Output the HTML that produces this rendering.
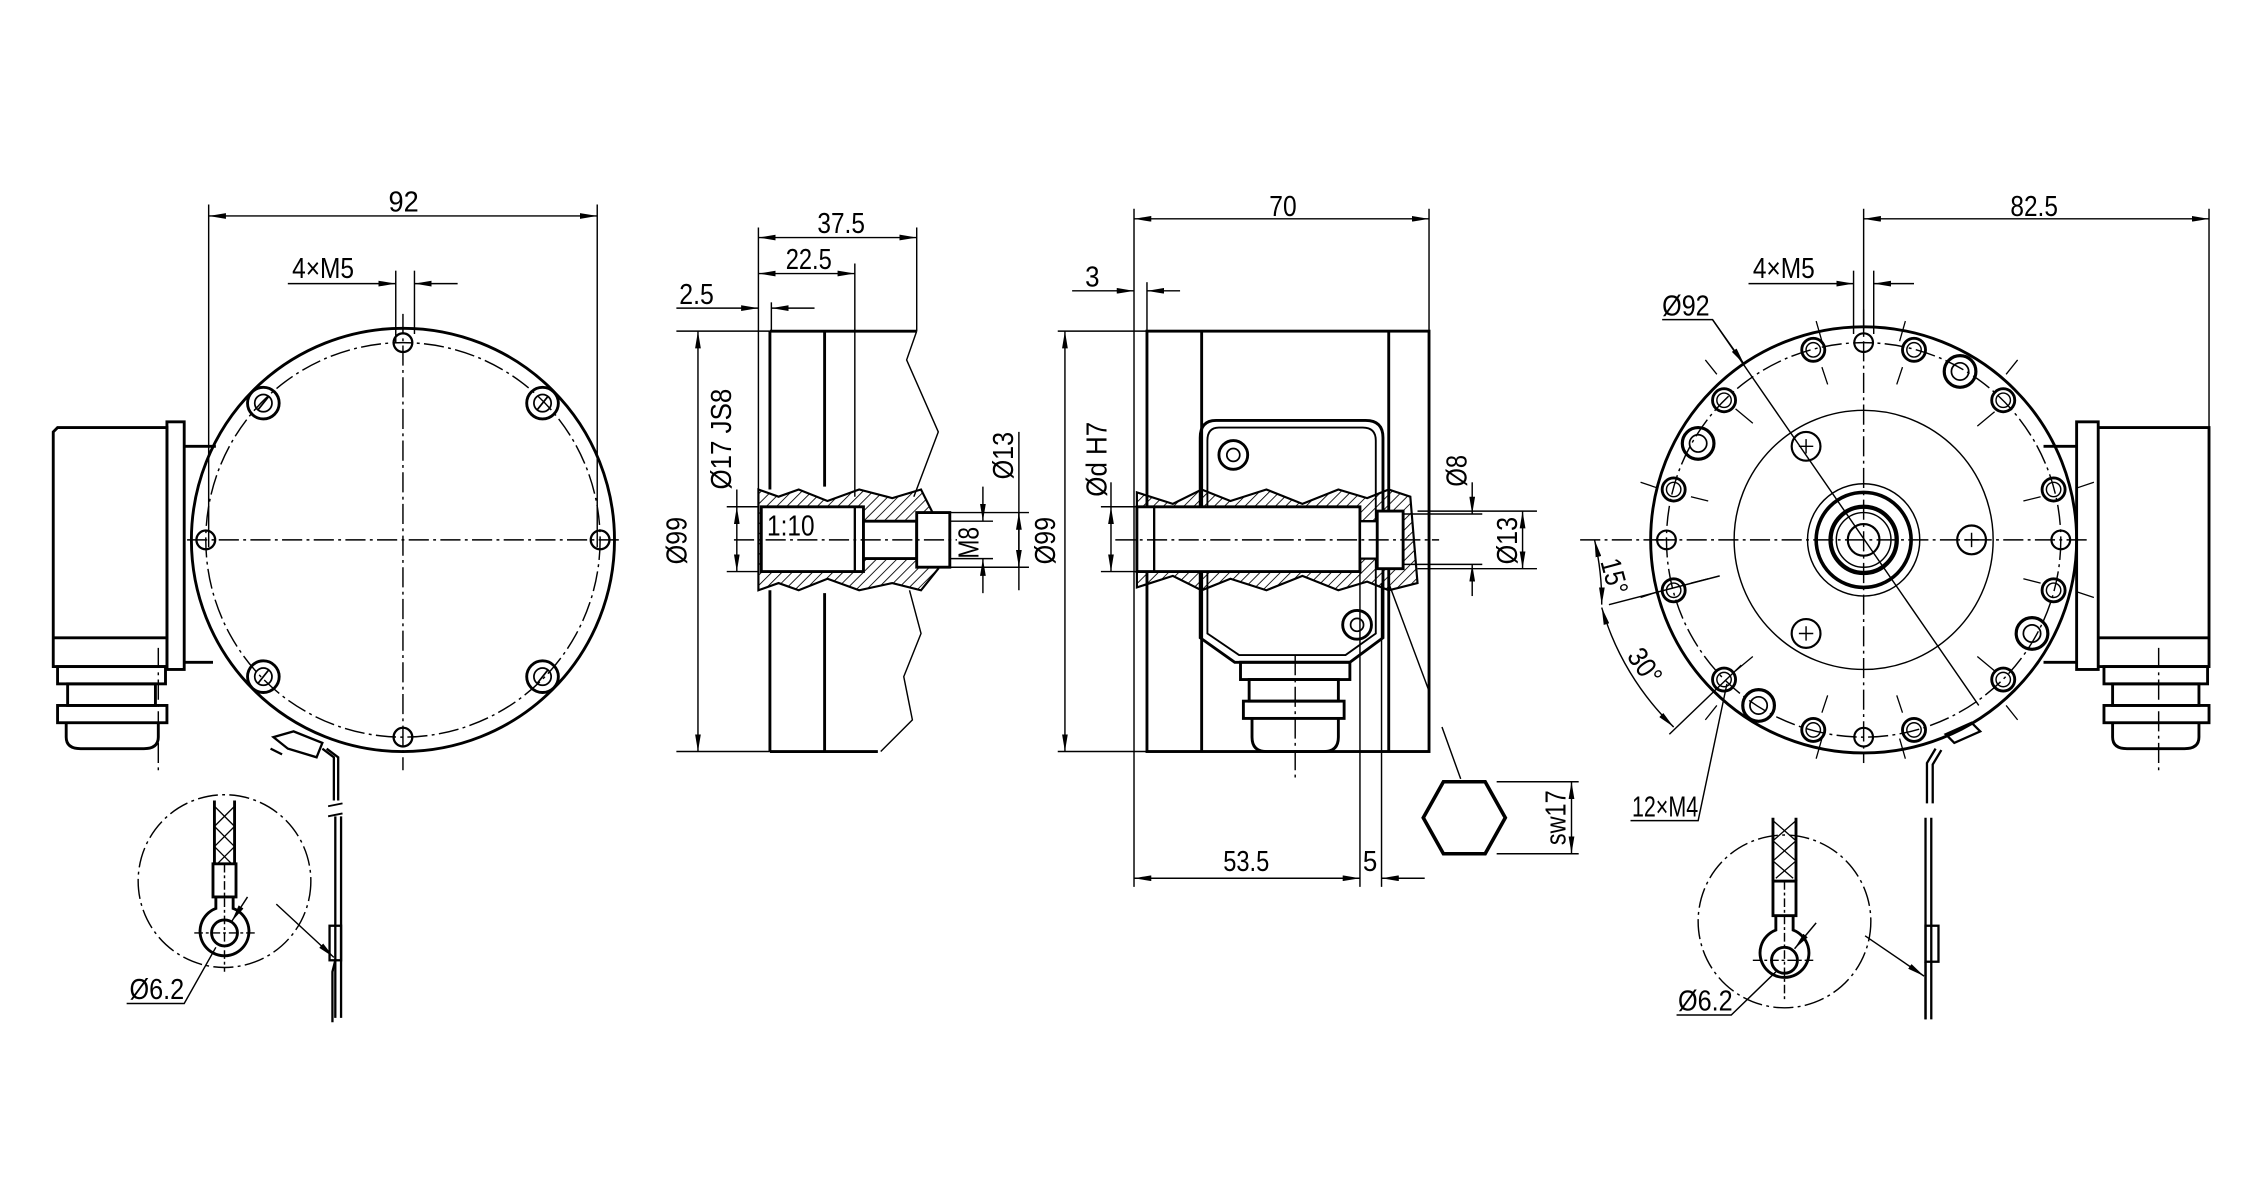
<!DOCTYPE html>
<html><head><meta charset="utf-8"><style>
html,body{margin:0;padding:0;background:#fff}
svg{display:block}
text{font-family:"Liberation Sans",sans-serif;font-size:20px;fill:#000}
</style></head><body>
<svg width="2245" height="1182" viewBox="0 0 1560 821" preserveAspectRatio="none" xmlns="http://www.w3.org/2000/svg">
<defs>
<marker id="a" viewBox="0 0 12 4" refX="12" refY="2" markerWidth="12" markerHeight="4" orient="auto-start-reverse" markerUnits="userSpaceOnUse"><path d="M0,0L12,2L0,4z" fill="#000"/></marker>
<pattern id="h" width="5" height="5" patternUnits="userSpaceOnUse" patternTransform="rotate(45)"><line x1="0" y1="0" x2="0" y2="5" stroke="#000" stroke-width="1.2"/></pattern>
</defs>
<g fill="none" stroke="#000" stroke-width="1">
<!-- ================= VIEW 1 ================= -->
<g stroke-width="1">
<line x1="145" y1="142" x2="145" y2="380"/><line x1="415" y1="142" x2="415" y2="380"/>
<line x1="145" y1="150" x2="415" y2="150" marker-start="url(#a)" marker-end="url(#a)"/>
<line x1="275" y1="188" x2="275" y2="238"/><line x1="288" y1="188" x2="288" y2="232"/>
<line x1="200" y1="197" x2="275" y2="197" marker-end="url(#a)"/><line x1="318" y1="197" x2="288" y2="197" marker-end="url(#a)"/>
</g>
<circle cx="280" cy="375" r="147" stroke-width="2"/>
<circle cx="280" cy="375" r="137" stroke-dasharray="14,3,2,3"/>
<line x1="130" y1="375" x2="432" y2="375" stroke-dasharray="14,3,2,3"/>
<line x1="280" y1="218" x2="280" y2="535" stroke-dasharray="14,3,2,3"/>
<g stroke-width="1.6">
<circle cx="280" cy="238" r="6.5"/><circle cx="280" cy="512" r="6.5"/><circle cx="143" cy="375" r="6.5"/><circle cx="417" cy="375" r="6.5"/>
</g>
<g stroke-width="2">
<circle cx="183" cy="280" r="11"/><circle cx="377" cy="280" r="11"/><circle cx="183" cy="470" r="11"/><circle cx="377" cy="470" r="11"/>
</g>
<g stroke-width="1.2"><circle cx="183" cy="280" r="6"/><circle cx="377" cy="280" r="6"/><circle cx="183" cy="470" r="6"/><circle cx="377" cy="470" r="6"/>
<line x1="179" y1="285" x2="187" y2="275"/><line x1="373" y1="285" x2="381" y2="275"/><line x1="179" y1="475" x2="187" y2="465"/><line x1="373" y1="475" x2="381" y2="465"/></g>
<!-- connector -->
<g stroke-width="2">
<path d="M40,297H116V463H37V300z"/><line x1="37" y1="443" x2="116" y2="443"/>
<rect x="116" y="293" width="12" height="172"/>
<path d="M128,310H150M128,460H148"/>
<rect x="40" y="463" width="75" height="12"/><rect x="47" y="475" width="61" height="15"/>
<rect x="40" y="490" width="76" height="12"/><path d="M46,502V512Q46,520 56,520H100Q110,520 110,512V502"/>
</g>
<line x1="110" y1="450" x2="110" y2="536" stroke-dasharray="14,3,2,3"/>
<!-- clip/lead -->
<g stroke-width="1.6"><path d="M190,512l14,-4l20,8l-4,10l-20,-6z"/><path d="M188,520l8,4M224,520l8,6v30M227,520l8,6v30"/><path d="M233,567v140M237,567v140" /><rect x="229" y="643" width="8" height="24"/><path d="M233,667l-2,8v35"/></g>
<g stroke-width="1.3"><path d="M228,560l10,-2M228,567l10,-2"/></g>
<!-- detail -->
<circle cx="156" cy="612" r="60" stroke-dasharray="14,3,2,3"/>
<g stroke-width="2"><path d="M149,556V600M163,556V600"/><rect x="148" y="600" width="16" height="23"/>
<path d="M150,623v8a17,17 0 1 0 12,0v-8"/><circle cx="156" cy="648" r="9"/></g>
<g stroke-width="0.9"><path d="M149,560l14,14M163,560l-14,14M149,574l14,14M163,574l-14,14M149,588l12,12M163,588l-12,12"/></g>
<path d="M135,648h42M156,600v75" stroke-dasharray="6,2,2,2"/>
<path d="M88,697H128L150,658" /><path d="M172,623L161,640" marker-end="url(#a)"/>
<path d="M192,628L232,665" marker-end="url(#a)"/>
<!-- ================= VIEW 2 ================= -->
<g>
<line x1="527" y1="158" x2="527" y2="345"/><line x1="594" y1="183" x2="594" y2="345"/><line x1="637" y1="158" x2="637" y2="230"/>
<line x1="527" y1="165" x2="637" y2="165" marker-start="url(#a)" marker-end="url(#a)"/>
<line x1="527" y1="190" x2="594" y2="190" marker-start="url(#a)" marker-end="url(#a)"/>
<line x1="470" y1="214" x2="527" y2="214" marker-end="url(#a)"/><line x1="566" y1="214" x2="536" y2="214" marker-end="url(#a)"/><line x1="536" y1="210" x2="536" y2="230"/>
<line x1="470" y1="230" x2="535" y2="230"/><line x1="470" y1="522" x2="535" y2="522"/>
<line x1="485" y1="230" x2="485" y2="522" marker-start="url(#a)" marker-end="url(#a)"/>
<line x1="505" y1="352" x2="527" y2="352"/><line x1="505" y1="397" x2="527" y2="397"/><line x1="512" y1="340" x2="512" y2="352"/>
<line x1="512" y1="352" x2="512" y2="397" marker-start="url(#a)" marker-end="url(#a)"/>
<line x1="660" y1="356" x2="715" y2="356"/><line x1="660" y1="394" x2="715" y2="394"/>
<line x1="708" y1="300" x2="708" y2="410"/><line x1="708" y1="356" x2="708" y2="394" marker-start="url(#a)" marker-end="url(#a)"/>
<line x1="640" y1="362" x2="690" y2="362"/><line x1="640" y1="388" x2="690" y2="388"/>
<line x1="683" y1="338" x2="683" y2="362" marker-end="url(#a)"/><line x1="683" y1="412" x2="683" y2="388" marker-end="url(#a)"/>
</g>
<g stroke-width="2">
<path d="M535,230H637M535,522H610M535,230V340M535,410V522"/><path d="M573,230V338M573,412V522"/>
</g>
<path d="M637,230L630,250L652,300L635,345M632,410L640,440L628,470L634,500L612,522"/>
<path d="M527,340L541,345L555,340L575,348L597,340L620,346L640,340L650,360L652,395L640,410L620,405L597,410L575,402L555,410L541,405L527,410z" fill="url(#h)" stroke="#000" stroke-width="1.5"/>
<path d="M529,352H600V397H529z" fill="#fff" stroke="#000" stroke-width="2"/>
<path d="M600,362H637V388H600z" fill="#fff" stroke="#000" stroke-width="2"/>
<path d="M637,356H660V394H637z" fill="#fff" stroke="#000" stroke-width="2"/>
<line x1="594" y1="352" x2="594" y2="397" stroke-width="1.6"/>
<line x1="510" y1="375" x2="665" y2="375" stroke-dasharray="14,3,2,3"/>
<!-- ================= VIEW 3 ================= -->
<g>
<line x1="788" y1="145" x2="788" y2="616"/><line x1="993" y1="145" x2="993" y2="230"/>
<line x1="788" y1="152" x2="993" y2="152" marker-start="url(#a)" marker-end="url(#a)"/>
<line x1="797" y1="196" x2="797" y2="230"/>
<line x1="745" y1="202" x2="788" y2="202" marker-end="url(#a)"/><line x1="820" y1="202" x2="797" y2="202" marker-end="url(#a)"/>
<line x1="735" y1="230" x2="797" y2="230"/><line x1="735" y1="522" x2="797" y2="522"/>
<line x1="740" y1="230" x2="740" y2="522" marker-start="url(#a)" marker-end="url(#a)"/>
<line x1="765" y1="352" x2="790" y2="352"/><line x1="765" y1="397" x2="790" y2="397"/><line x1="772" y1="335" x2="772" y2="352"/>
<line x1="772" y1="352" x2="772" y2="397" marker-start="url(#a)" marker-end="url(#a)"/>
<line x1="975" y1="357" x2="1030" y2="357"/><line x1="975" y1="392" x2="1030" y2="392"/>
<line x1="1023" y1="335" x2="1023" y2="357" marker-end="url(#a)"/><line x1="1023" y1="414" x2="1023" y2="392" marker-end="url(#a)"/>
<line x1="985" y1="355" x2="1068" y2="355"/><line x1="985" y1="395" x2="1068" y2="395"/>
<line x1="1058" y1="355" x2="1058" y2="395" marker-start="url(#a)" marker-end="url(#a)"/>
<line x1="945" y1="395" x2="945" y2="616"/><line x1="960" y1="405" x2="960" y2="616"/>
<line x1="788" y1="610" x2="945" y2="610" marker-start="url(#a)" marker-end="url(#a)"/>
<line x1="990" y1="610" x2="960" y2="610" marker-end="url(#a)"/>
<line x1="965" y1="405" x2="993" y2="480"/><line x1="1002" y1="505" x2="1015" y2="541"/>
<line x1="1040" y1="543" x2="1097" y2="543"/><line x1="1040" y1="593" x2="1097" y2="593"/>
<line x1="1092" y1="543" x2="1092" y2="593" marker-start="url(#a)" marker-end="url(#a)"/>
</g>
<path d="M1003,543H1032L1046,568L1032,593H1003L989,568z" stroke-width="2.5"/>
<g stroke-width="2">
<rect x="797" y="230" width="196" height="292"/><path d="M835,230V522M965,230V522"/>
<path d="M845,292H949Q961,292 961,304V443L938,460H858L834,443V304Q834,292 845,292z"/>
<path d="M847,297H947Q956,297 956,306V440L935,455H861L839,440V306Q839,297 847,297z" stroke-width="1.3"/>
<circle cx="857" cy="316" r="10"/><circle cx="943" cy="434" r="10"/>
<rect x="862" y="460" width="76" height="12"/><rect x="868" y="472" width="62" height="15"/>
<rect x="864" y="487" width="70" height="12"/><path d="M870,499V512Q870,522 880,522H920Q930,522 930,512V499"/>
</g>
<circle cx="857" cy="316" r="4.5" stroke-width="1.2"/><circle cx="943" cy="434" r="4.5" stroke-width="1.2"/>
<line x1="900" y1="455" x2="900" y2="540" stroke-dasharray="14,3,2,3"/>
<path d="M790,342L815,350L835,340L855,348L880,340L905,350L930,340L950,346L965,340L980,345L985,405L965,410L950,404L930,410L905,400L880,410L855,402L835,410L815,400L790,408z" fill="url(#h)" stroke="#000" stroke-width="1.5"/>
<path d="M790,352H945V397H790z" fill="#fff" stroke="#000" stroke-width="2"/>
<line x1="802" y1="352" x2="802" y2="397" stroke-width="1.6"/>
<path d="M945,362H957V388H945z" fill="#fff" stroke="#000" stroke-width="1.6"/>
<path d="M957,355H975V395H957z" fill="#fff" stroke="#000" stroke-width="2"/>
<line x1="775" y1="375" x2="1000" y2="375" stroke-dasharray="14,3,2,3"/>
<!-- ================= VIEW 4 ================= -->
<g>
<line x1="1295" y1="145" x2="1295" y2="232"/><line x1="1535" y1="145" x2="1535" y2="297"/>
<line x1="1295" y1="152" x2="1535" y2="152" marker-start="url(#a)" marker-end="url(#a)"/>
<line x1="1288" y1="188" x2="1288" y2="232"/><line x1="1302" y1="188" x2="1302" y2="232"/>
<line x1="1215" y1="197" x2="1288" y2="197" marker-end="url(#a)"/><line x1="1330" y1="197" x2="1302" y2="197" marker-end="url(#a)"/>
<path d="M1155,222H1190L1375,490"/><line x1="1190" y1="222" x2="1212" y2="253" marker-end="url(#a)"/>
<path d="M1133,570H1180L1200,475"/>
<line x1="1098" y1="375" x2="1160" y2="375" stroke-dasharray="14,3,2,3"/>
<line x1="1118" y1="420" x2="1195" y2="400"/><line x1="1160" y1="510" x2="1210" y2="462"/>
<path d="M1108,375A188,188 0 0 1 1113,420" marker-start="url(#a)" marker-end="url(#a)"/>
<path d="M1113,422A188,188 0 0 0 1163,505" marker-start="url(#a)" marker-end="url(#a)"/>
</g>
<circle cx="1295" cy="375" r="148" stroke-width="2"/>
<circle cx="1295" cy="375" r="137" stroke-dasharray="14,3,2,3"/>
<circle cx="1295" cy="375" r="90"/>
<circle cx="1295" cy="375" r="39"/><circle cx="1295" cy="375" r="33" stroke-width="2.5"/>
<circle cx="1295" cy="375" r="23" stroke-width="3"/><circle cx="1295" cy="375" r="19"/><circle cx="1295" cy="375" r="11" stroke-width="1.5"/>
<line x1="1150" y1="375" x2="1450" y2="375" stroke-dasharray="14,3,2,3"/>
<line x1="1295" y1="215" x2="1295" y2="530" stroke-dasharray="14,3,2,3"/>
<g stroke-width="2">
<circle cx="1427" cy="340" r="8"/><circle cx="1392" cy="278" r="8"/><circle cx="1330" cy="243" r="8"/><circle cx="1260" cy="243" r="8"/>
<circle cx="1198" cy="278" r="8"/><circle cx="1163" cy="340" r="8"/><circle cx="1163" cy="410" r="8"/><circle cx="1198" cy="472" r="8"/>
<circle cx="1260" cy="507" r="8"/><circle cx="1330" cy="507" r="8"/><circle cx="1392" cy="472" r="8"/><circle cx="1427" cy="410" r="8"/>
</g>
<g stroke-width="1">
<circle cx="1427" cy="340" r="5"/><circle cx="1392" cy="278" r="5"/><circle cx="1330" cy="243" r="5"/><circle cx="1260" cy="243" r="5"/>
<circle cx="1198" cy="278" r="5"/><circle cx="1163" cy="340" r="5"/><circle cx="1163" cy="410" r="5"/><circle cx="1198" cy="472" r="5"/>
<circle cx="1260" cy="507" r="5"/><circle cx="1330" cy="507" r="5"/><circle cx="1392" cy="472" r="5"/><circle cx="1427" cy="410" r="5"/>
</g>
<g stroke-width="1.5"><circle cx="1295" cy="238" r="6.5"/><circle cx="1295" cy="512" r="6.5"/><circle cx="1158" cy="375" r="6.5"/><circle cx="1432" cy="375" r="6.5"/></g>
<g stroke-width="2.2"><circle cx="1362" cy="258" r="11"/><circle cx="1180" cy="308" r="11"/><circle cx="1412" cy="440" r="11"/><circle cx="1222" cy="490" r="11"/></g>
<g stroke-width="1.2"><circle cx="1362" cy="258" r="6"/><circle cx="1180" cy="308" r="6"/><circle cx="1412" cy="440" r="6"/><circle cx="1222" cy="490" r="6"/></g>
<g stroke-width="1.5"><circle cx="1255" cy="310" r="10"/><circle cx="1255" cy="440" r="10"/><circle cx="1370" cy="375" r="10"/></g>
<g stroke-width="1"><path d="M1250,310h10M1255,305v10M1250,440h10M1255,435v10M1365,375h10M1370,370v10"/></g>
<g stroke-width="0.9"><path d="M1262,223l4,14M1266,255l4,12M1324,223l-4,14M1322,255l-4,12M1185,250l8,10M1206,284l12,10M1402,250l-8,10M1386,286l-12,10M1140,335l12,4M1175,345l12,3M1455,335l-12,4M1418,345l-12,3M1140,415l12,-4M1175,405l12,-3M1455,415l-12,-4M1418,405l-12,-3M1185,500l8,-10M1206,466l12,-10M1402,500l-8,-10M1386,466l-12,-10M1262,527l4,-14M1266,495l4,-12M1324,527l-4,-14M1322,495l-4,-12"/></g>
<g stroke-width="2">
<rect x="1443" y="293" width="15" height="172"/><path d="M1458,297H1535V463H1458"/><line x1="1458" y1="443" x2="1535" y2="443"/>
<path d="M1420,310H1443M1420,460H1443"/>
<rect x="1462" y="463" width="72" height="12"/><rect x="1468" y="475" width="60" height="15"/>
<rect x="1462" y="490" width="73" height="12"/><path d="M1468,502V512Q1468,520 1478,520H1518Q1528,520 1528,512V502"/>
</g>
<line x1="1500" y1="450" x2="1500" y2="536" stroke-dasharray="14,3,2,3"/>
<g stroke-width="1.6"><path d="M1352,510l18,-8l6,6l-18,8z"/><path d="M1345,520l-6,10v28M1349,521l-6,10v27"/><path d="M1338,568v140M1342,568v140"/><rect x="1338" y="643" width="9" height="25"/><path d="M1338,668v40"/></g>
<circle cx="1240" cy="640" r="60" stroke-dasharray="14,3,2,3"/>
<g stroke-width="2"><path d="M1232,568V612M1248,568V612"/><rect x="1232" y="612" width="16" height="24"/>
<path d="M1234,636v10a17,17 0 1 0 12,0v-10"/><circle cx="1240" cy="667" r="9"/></g>
<g stroke-width="0.9"><path d="M1232,570l16,14M1248,570l-16,14M1232,584l16,14M1248,584l-16,14M1232,598l14,12M1248,598l-14,12"/></g>
<path d="M1218,667h44M1240,612v82" stroke-dasharray="6,2,2,2"/>
<path d="M1165,705H1203L1234,675"/><path d="M1262,641L1247,659" marker-end="url(#a)"/>
<path d="M1296,650L1337,678" marker-end="url(#a)"/>
</g>
<!-- text -->
<g>
<text x="270" y="147" textLength="21" lengthAdjust="spacingAndGlyphs">92</text>
<text x="203" y="193" textLength="43" lengthAdjust="spacingAndGlyphs">4×M5</text>
<text x="568" y="162" textLength="33" lengthAdjust="spacingAndGlyphs">37.5</text>
<text x="546" y="187" textLength="32" lengthAdjust="spacingAndGlyphs">22.5</text>
<text x="472" y="211" textLength="24" lengthAdjust="spacingAndGlyphs">2.5</text>
<text transform="translate(477,392) rotate(-90)" textLength="33" lengthAdjust="spacingAndGlyphs">Ø99</text>
<text transform="translate(508,340) rotate(-90)" textLength="70" lengthAdjust="spacingAndGlyphs">Ø17 JS8</text>
<text x="533" y="372" textLength="33" lengthAdjust="spacingAndGlyphs">1:10</text>
<text transform="translate(704,333) rotate(-90)" textLength="33" lengthAdjust="spacingAndGlyphs">Ø13</text>
<text transform="translate(680,388) rotate(-90)" textLength="22" lengthAdjust="spacingAndGlyphs">M8</text>
<text x="882" y="150" textLength="19" lengthAdjust="spacingAndGlyphs">70</text>
<text x="754" y="199" textLength="10" lengthAdjust="spacingAndGlyphs">3</text>
<text transform="translate(769,345) rotate(-90)" textLength="52" lengthAdjust="spacingAndGlyphs">Ød H7</text>
<text transform="translate(733,392) rotate(-90)" textLength="33" lengthAdjust="spacingAndGlyphs">Ø99</text>
<text transform="translate(1019,338) rotate(-90)" textLength="22" lengthAdjust="spacingAndGlyphs">Ø8</text>
<text transform="translate(1054,392) rotate(-90)" textLength="33" lengthAdjust="spacingAndGlyphs">Ø13</text>
<text x="850" y="605" textLength="32" lengthAdjust="spacingAndGlyphs">53.5</text>
<text x="947" y="605" textLength="10" lengthAdjust="spacingAndGlyphs">5</text>
<text transform="translate(1088,587) rotate(-90)" textLength="38" lengthAdjust="spacingAndGlyphs">sw17</text>
<text x="1397" y="150" textLength="33" lengthAdjust="spacingAndGlyphs">82.5</text>
<text x="1218" y="193" textLength="43" lengthAdjust="spacingAndGlyphs">4×M5</text>
<text x="1155" y="219" textLength="33" lengthAdjust="spacingAndGlyphs">Ø92</text>
<text transform="translate(1112,390) rotate(75)" textLength="25" lengthAdjust="spacingAndGlyphs">15°</text>
<text transform="translate(1130,456) rotate(55)" textLength="26" lengthAdjust="spacingAndGlyphs">30°</text>
<text x="1134" y="567" textLength="46" lengthAdjust="spacingAndGlyphs">12×M4</text>
<text x="90" y="694" textLength="38" lengthAdjust="spacingAndGlyphs">Ø6.2</text>
<text x="1166" y="702" textLength="38" lengthAdjust="spacingAndGlyphs">Ø6.2</text>
</g>
</svg>
</body></html>
